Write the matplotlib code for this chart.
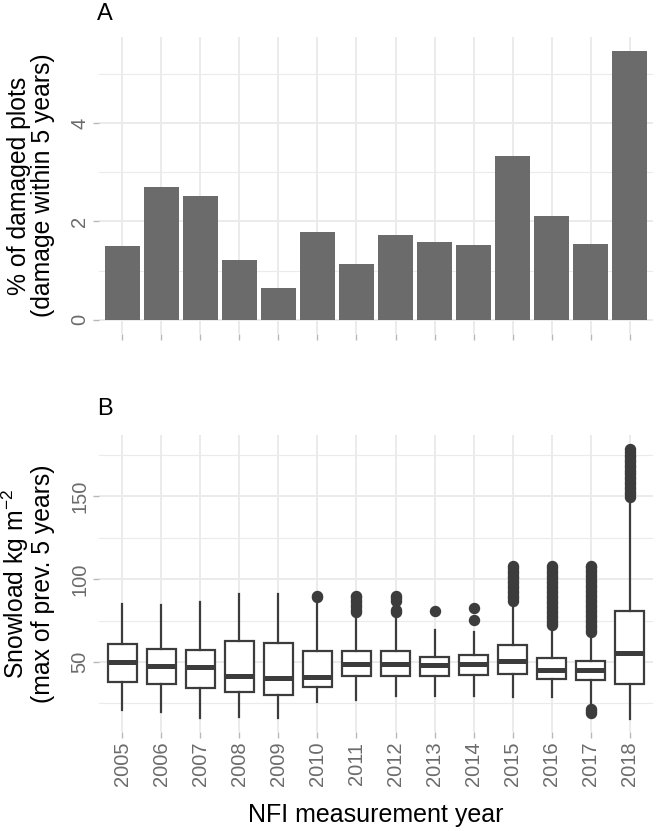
import matplotlib
matplotlib.use("Agg")
import matplotlib.pyplot as plt
from matplotlib.ticker import MultipleLocator

plt.rcParams['font.family'] = ['Liberation Sans', 'DejaVu Sans']
plt.rcParams['mathtext.fontset'] = 'custom'
plt.rcParams['mathtext.rm'] = 'Liberation Sans'
plt.rcParams['mathtext.it'] = 'Liberation Sans:italic'

# Panel A: share of damaged plots per NFI year
years = [2005, 2006, 2007, 2008, 2009, 2010, 2011, 2012, 2013, 2014, 2015, 2016, 2017, 2018]
damaged_pct = [1.51, 2.70, 2.51, 1.22, 0.65, 1.78, 1.13, 1.73, 1.58, 1.52, 3.33, 2.11, 1.54, 5.47]

# Panel B: snowload box statistics per year
snow_whislo = [20.9, 19.9, 16.5, 16.9, 16.5, 25.9, 27.3, 29.3, 29.3, 29.3, 29.0, 29.0, 23.0, 15.9]
snow_q1 = [38.0, 36.6, 34.2, 31.7, 29.9, 34.8, 41.4, 41.7, 41.7, 42.0, 43.0, 39.6, 39.0, 36.6]
snow_med = [50.0, 47.6, 47.0, 41.6, 40.4, 41.0, 49.0, 49.0, 48.0, 49.0, 50.6, 45.2, 45.0, 55.7]
snow_q3 = [60.7, 58.0, 57.5, 62.5, 61.4, 56.4, 56.6, 56.6, 53.2, 54.0, 60.5, 52.6, 50.6, 81.0]
snow_whishi = [85.2, 84.2, 86.1, 90.8, 90.8, 87.0, 79.0, 78.0, 69.5, 68.0, 86.0, 71.0, 67.0, 147.0]
snow_outliers = [
    [],
    [],
    [],
    [],
    [],
    [89, 90],
    [80, 81.5, 83, 84.5, 86, 87.5, 89, 90],
    [80, 81.5, 87, 88.5, 90],
    [81],
    [75.5, 82.5],
    [87, 88.5, 90, 91.5, 93, 94.5, 96, 97.5, 99, 100.5, 102, 103.5, 105, 106.5, 108],
    [72, 73.5, 75, 76.5, 78, 79.5, 81, 82.5, 84, 85.5, 87, 88.5, 90, 91.5, 93, 94.5,
     96, 97.5, 99, 100.5, 102, 103.5, 105, 106.5, 108],
    [19.5, 20.5, 21.5, 68, 69.5, 71, 72.5, 74, 75.5, 77, 78.5, 80, 81.5, 83, 84.5, 86,
     87.5, 89, 90.5, 92, 93.5, 95, 96.5, 98, 99.5, 101, 102.5, 104, 105.5, 107, 108],
    [149.5, 151, 152.5, 154, 155.5, 157, 158.5, 160, 161.5, 163, 164.5, 166, 167.5,
     169, 170.5, 172, 173.5, 175, 176.5, 178.5],
]

W, H = 656, 831
fig = plt.figure(figsize=(W / 100, H / 100), dpi=100)

def px_axes(left, top, right, bottom):
    return fig.add_axes([left / W, 1 - bottom / H, (right - left) / W, (bottom - top) / H])

grid_col = '#ebebeb'
tick_col = '#6b6b6b'
pos = list(range(len(years)))

def style(ax):
    for s in ax.spines.values():
        s.set_visible(False)
    ax.set_axisbelow(True)
    ax.grid(True, which='major', color=grid_col, linewidth=1.4)
    ax.grid(True, which='minor', axis='y', color=grid_col, linewidth=0.8)
    ax.tick_params(which='major', length=4, width=1, color='#b8b8b8',
                   labelcolor=tick_col, labelsize=14.5, pad=3)
    ax.tick_params(which='minor', length=0)
    ax.set_xlim(-0.6, len(years) - 0.4)
    ax.set_xticks(pos)

# --- A ---
ax1 = px_axes(99, 37, 653, 334)
style(ax1)
ax1.bar(pos, damaged_pct, width=0.9, color='#6b6b6b', zorder=2)
ax1.set_ylim(-0.2875, 5.75)
ax1.yaxis.set_major_locator(MultipleLocator(2))
ax1.yaxis.set_minor_locator(MultipleLocator(1))
ax1.set_xticklabels([])
for t in ax1.get_yticklabels():
    t.set_rotation(90)
    t.set_va('center')
ax1.set_ylabel('% of damaged plots\n(damage within 5 years)', fontsize=17.8, linespacing=1.0)
ax1.yaxis.set_label_coords(-0.08, 0.5)

# --- B ---
ax2 = px_axes(99, 435, 653, 732)
style(ax2)
stats = []
for i in range(len(years)):
    stats.append(dict(med=snow_med[i], q1=snow_q1[i], q3=snow_q3[i],
                      whislo=snow_whislo[i], whishi=snow_whishi[i],
                      fliers=snow_outliers[i]))
box_col = '#3c3c3c'
ax2.bxp(stats, positions=pos, widths=0.75, showcaps=False, patch_artist=True,
        boxprops=dict(facecolor='white', edgecolor=box_col, linewidth=1.6),
        whiskerprops=dict(color=box_col, linewidth=1.6),
        medianprops=dict(color=box_col, linewidth=3.6),
        flierprops=dict(marker='o', markerfacecolor=box_col, markeredgecolor=box_col,
                        markersize=7.2),
        manage_ticks=False, zorder=2)
ax2.set_ylim(7.8, 186.8)
ax2.yaxis.set_major_locator(MultipleLocator(50))
ax2.yaxis.set_minor_locator(MultipleLocator(25))
ax2.set_xticks(pos)
ax2.set_xticklabels([str(y) for y in years], rotation=90, va='top', ha='center')
for t in ax2.get_yticklabels():
    t.set_rotation(90)
    t.set_va('center')
ax2.set_ylabel('Snowload kg m$^{-2}$\n(max of prev. 5 years)', fontsize=17.8, linespacing=1.0)
ax2.yaxis.set_label_coords(-0.08, 0.5)

fig.text(376 / W, 1 - 815 / H, 'NFI measurement year', fontsize=18, ha='center', va='center')
fig.text(97 / W, 1 - 3 / H, 'A', fontsize=17, ha='left', va='top')
fig.text(97 / W, 1 - 398 / H, 'B', fontsize=17, ha='left', va='top')

fig.savefig('out.png', dpi=100)
plt.close(fig)
